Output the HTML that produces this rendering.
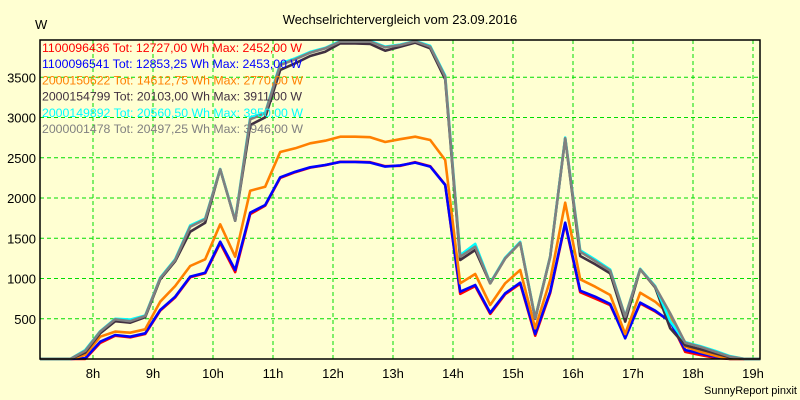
<!DOCTYPE html>
<html><head><meta charset="utf-8"><style>
html,body{margin:0;padding:0;background:#ffffd2;}
svg{display:block;font-family:"Liberation Sans",sans-serif;}
</style></head><body>
<svg id="chart" width="800" height="400" viewBox="0 0 800 400">
<rect x="0" y="0" width="800" height="400" fill="#ffffd2"/>
<text x="400" y="24" text-anchor="middle" font-size="13" fill="#000">Wechselrichtervergleich vom 23.09.2016</text>
<text x="35" y="29" font-size="13" fill="#000">W</text>
<g id="grid"></g>
<g id="series"></g>
<rect x="40" y="40" width="720" height="319" fill="none" stroke="#000" stroke-width="1.5"/>
<g id="ticks"></g>
<g id="legend"></g>
<text x="797" y="394" text-anchor="end" font-size="11" fill="#000">SunnyReport pinxit</text>
</svg>
<script>
const startHour = 7.12;
const stepHour = 0.25;
const yTicks = [500,1000,1500,2000,2500,3000,3500];
const xTicks = [8,9,10,11,12,13,14,15,16,17,18,19];
const seriesNames = ["1100096436","1100096541","2000150622","2000154799","2000149892","2000001478"];
const seriesColors = ["#ff0000","#0000ff","#ff8000","#403040","#00ffff","#808080"];
const legendLabels = [
 "1100096436 Tot: 12727,00 Wh Max: 2452,00 W",
 "1100096541 Tot: 12853,25 Wh Max: 2453,00 W",
 "2000150622 Tot: 14612,75 Wh Max: 2770,00 W",
 "2000154799 Tot: 20103,00 Wh Max: 3911,00 W",
 "2000149892 Tot: 20560,50 Wh Max: 3950,00 W",
 "2000001478 Tot: 20497,25 Wh Max: 3946,00 W"];
const red = [0,0,0,0,200,290,270,310,600,765,1015,1065,1440,1080,1800,1905,2250,2320,2378,2408,2450,2450,2445,2395,2400,2445,2395,2165,810,905,560,805,935,290,820,1680,830,750,670,275,690,590,470,90,50,15,0,0,0];
const blue = [0,0,0,10,215,298,277,319,609,774,1023,1072,1457,1106,1818,1913,2257,2327,2381,2410,2447,2447,2440,2390,2405,2440,2390,2161,836,919,575,816,948,311,836,1693,849,774,683,257,700,600,464,112,70,29,0,0,0];
const orange = [0,0,0,50,277,340,327,369,712,907,1155,1238,1673,1271,2091,2140,2571,2617,2679,2712,2762,2762,2755,2696,2730,2762,2720,2472,940,1056,671,940,1106,381,981,1942,990,898,795,311,824,712,547,153,90,40,0,0,0];
const dark = [0,0,0,80,320,470,451,520,990,1215,1581,1693,2356,1718,2907,3002,3590,3673,3764,3817,3921,3921,3913,3830,3880,3930,3860,3475,1230,1354,940,1251,1445,500,1271,2742,1280,1176,1063,464,1114,890,381,170,120,70,20,0,0];
const cyan = [0,0,0,110,345,500,490,540,1010,1240,1660,1745,2360,1725,3000,3060,3670,3735,3815,3865,3950,3950,3950,3880,3905,3950,3890,3520,1290,1430,945,1260,1455,510,1275,2750,1350,1235,1110,530,1120,905,470,210,160,100,35,0,0];
const gray = [0,0,0,100,340,493,470,534,1002,1230,1643,1735,2356,1718,2978,3052,3652,3723,3805,3859,3942,3942,3942,3872,3900,3946,3880,3507,1271,1395,940,1251,1445,505,1271,2742,1333,1217,1097,526,1114,898,567,203,153,91,29,0,0];

const NS="http://www.w3.org/2000/svg";
function xScale(h){return 93+(h-8)*60;}
function yScale(v){return 359-v*0.0805;}
function mk(tag,attrs,parent){const e=document.createElementNS(NS,tag);for(const k in attrs)e.setAttribute(k,attrs[k]);parent.appendChild(e);return e;}
const grid=document.getElementById('grid'),ticks=document.getElementById('ticks'),sg=document.getElementById('series'),lg=document.getElementById('legend');
yTicks.forEach(v=>{
 const l=mk('line',{x1:40,x2:760,y1:yScale(v),y2:yScale(v),stroke:'#00dd00','stroke-dasharray':'4,3','stroke-width':1},grid);
 
 
 const t=mk('text',{x:36,y:yScale(v)+5,'text-anchor':'end','font-size':13,fill:'#000'},ticks);
 t.textContent=v;
 
 
});
xTicks.forEach(h=>{
 const l=mk('line',{x1:xScale(h),x2:xScale(h),y1:40,y2:359,stroke:'#00dd00','stroke-dasharray':'4,3','stroke-width':1},grid);
 
 
 const t=mk('text',{x:xScale(h),y:378,'text-anchor':'middle','font-size':13,fill:'#000'},ticks);
 t.textContent=h+'h';
 
 
});
const allSeries=[red,blue,orange,dark,cyan,gray];
allSeries.forEach((arr,i)=>{
 const pts=arr.map((v,k)=>xScale(startHour+k*stepHour).toFixed(1)+','+yScale(v).toFixed(1)).join(' ');
 const p=mk('polyline',{points:pts,fill:'none',stroke:seriesColors[i],'stroke-width':2.6,'stroke-linejoin':'round'},sg);
 
 
});
legendLabels.forEach((s,i)=>{
 const t=mk('text',{x:42,y:52+i*16.2,'font-size':12.3,fill:seriesColors[i]},lg);
 t.textContent=s;
 
 
});
</script>
</body></html>
